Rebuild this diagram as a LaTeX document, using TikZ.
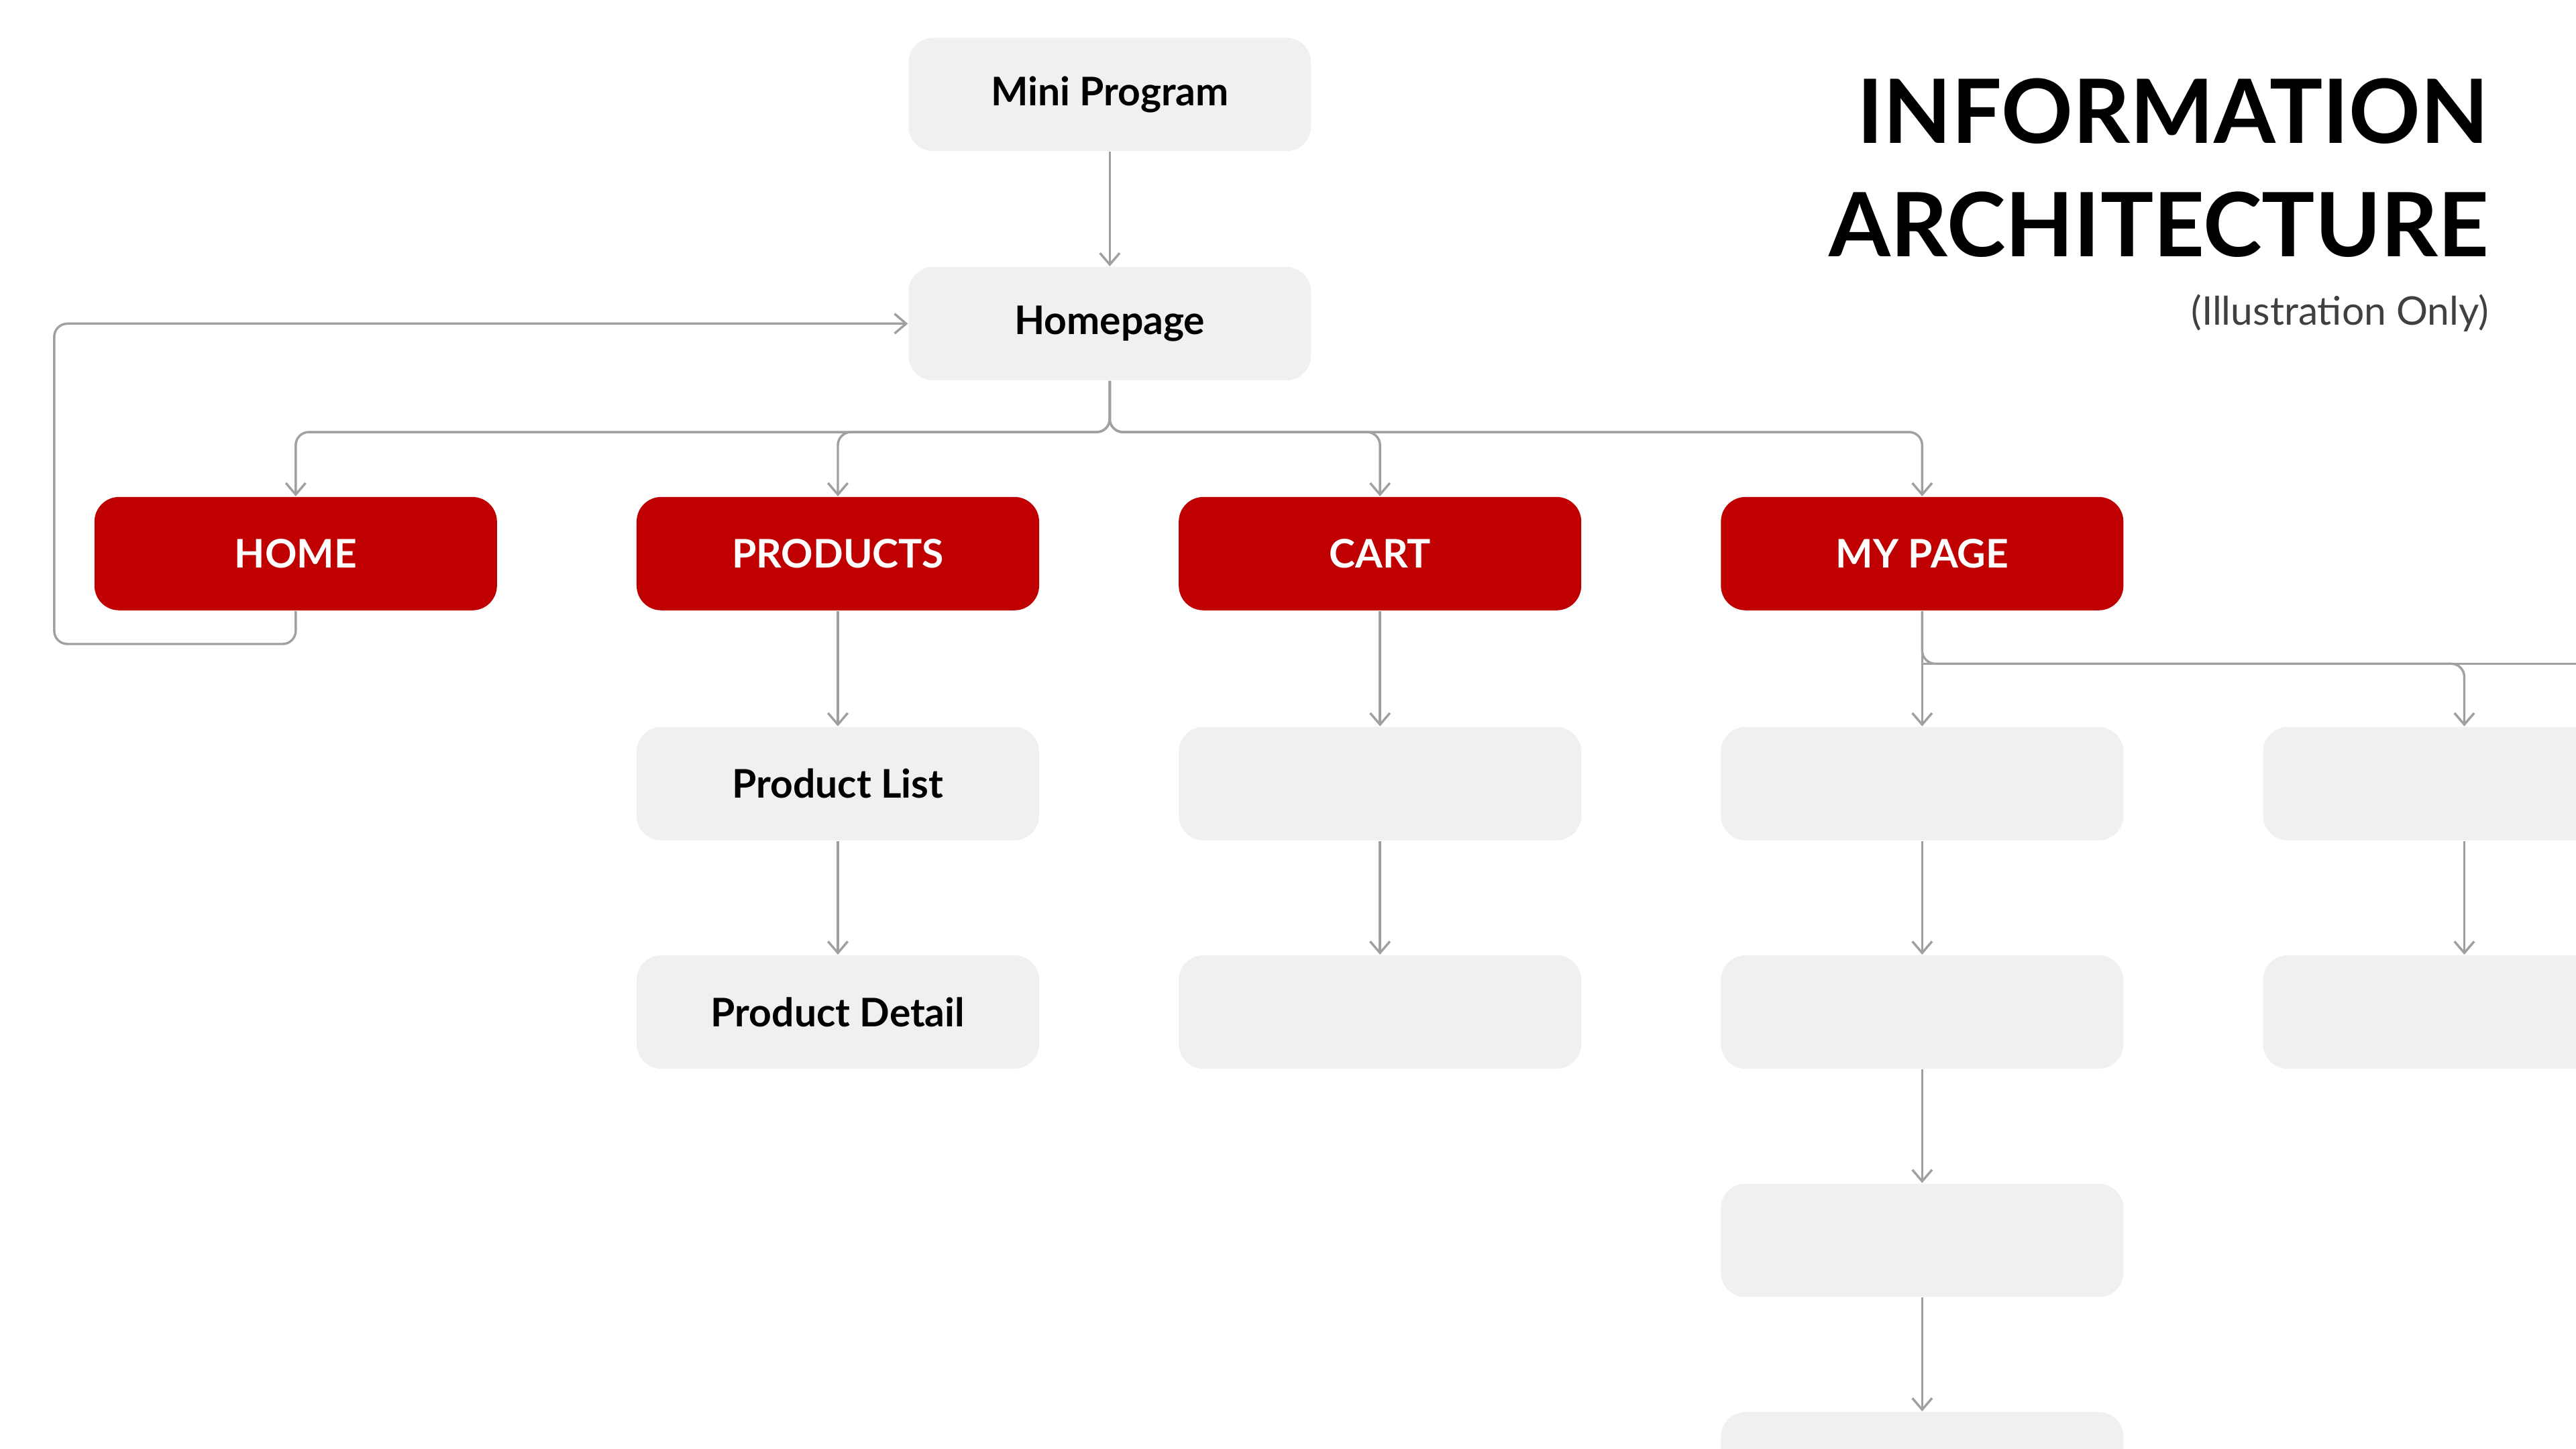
\documentclass[tikz,border=0pt]{standalone}
\usepackage{fontspec}
\setmainfont{Lato}
\usetikzlibrary{arrows.meta}
\definecolor{boxgray}{RGB}{240,240,240}
\definecolor{navred}{RGB}{192,0,0}
\definecolor{linkgray}{RGB}{160,160,160}
\tikzset{
  page/.style={fill=boxgray,rounded corners=7.5pt,minimum width=122.5pt,minimum height=34.5pt,font=\bfseries\fontsize{12}{14}\selectfont,text=black},
  navbox/.style={page,fill=navred,text=white,font=\fontsize{12}{14}\selectfont\bfseries},
  link/.style={draw=linkgray,line width=0.7pt,rounded corners=4pt,-{Straight Barb[length=3.5pt,width=6pt]}}
}
\begin{document}
\begin{tikzpicture}[x=0.5pt,y=0.5pt,yscale=-1]
\useasboundingbox (0,0) rectangle (1568,882);
\clip (0,0) rectangle (1568,882);

% top
\node[page] (mini) at (675.5,57.5) {Mini Program};
\node[page] (hp) at (675.5,197) {Homepage};

% navigation row
\node[navbox] (home) at (180,337) {HOME};
\node[navbox] (prod) at (510,337) {PRODUCTS};
\node[navbox] (cart) at (840,337) {CART};
\node[navbox] (mypage) at (1170,337) {MY PAGE};

% sub pages
\node[page] (plist) at (510,477) {Product List};
\node[page] (pdet) at (510,616) {Product Detail};
\node[page] (c1) at (840,477) {};
\node[page] (c2) at (840,616) {};
\node[page] (m1) at (1170,477) {};
\node[page] (m2) at (1170,616) {};
\node[page] (m3) at (1170,755) {};
\node[page] (m4) at (1170,894) {};
\node[page] (n1) at (1500,477) {};
\node[page] (n2) at (1500,616) {};

\coordinate (hpb) at (675.5,263);
\coordinate (mpb) at (1170,404);

\draw[link] (mini) -- (hp);
\foreach \t in {home,prod,cart,mypage}
  \draw[link] (hp.south) -- (hpb) -| (\t.north);
\draw[link] (home.south) |- (33,392) |- (hp.west);

\draw[link] (prod) -- (plist);
\draw[link] (plist) -- (pdet);
\draw[link] (cart) -- (c1);
\draw[link] (c1) -- (c2);
\draw[link] (mypage) -- (m1);
\draw[link] (m1) -- (m2);
\draw[link] (m2) -- (m3);
\draw[link] (m3) -- (m4);
\draw[link] (mypage.south) -- (mpb) -| (n1.north);
\draw[draw=linkgray,line width=0.7pt] (mpb) -- (1600,404);
\draw[link] (n1) -- (n2);

% title
\node[anchor=base east,font=\bfseries\fontsize{27}{30}\selectfont] (t1) at (1522,87) {INFORMATION};
\node[anchor=base east,font=\bfseries\fontsize{27}{30}\selectfont] (t2) at (1522,156) {ARCHITECTURE};
\node[anchor=base east,font=\fontsize{12}{14}\selectfont,text=black!75] (t3) at (1522,198) {(Illustration Only)};
\end{tikzpicture}
\end{document}
